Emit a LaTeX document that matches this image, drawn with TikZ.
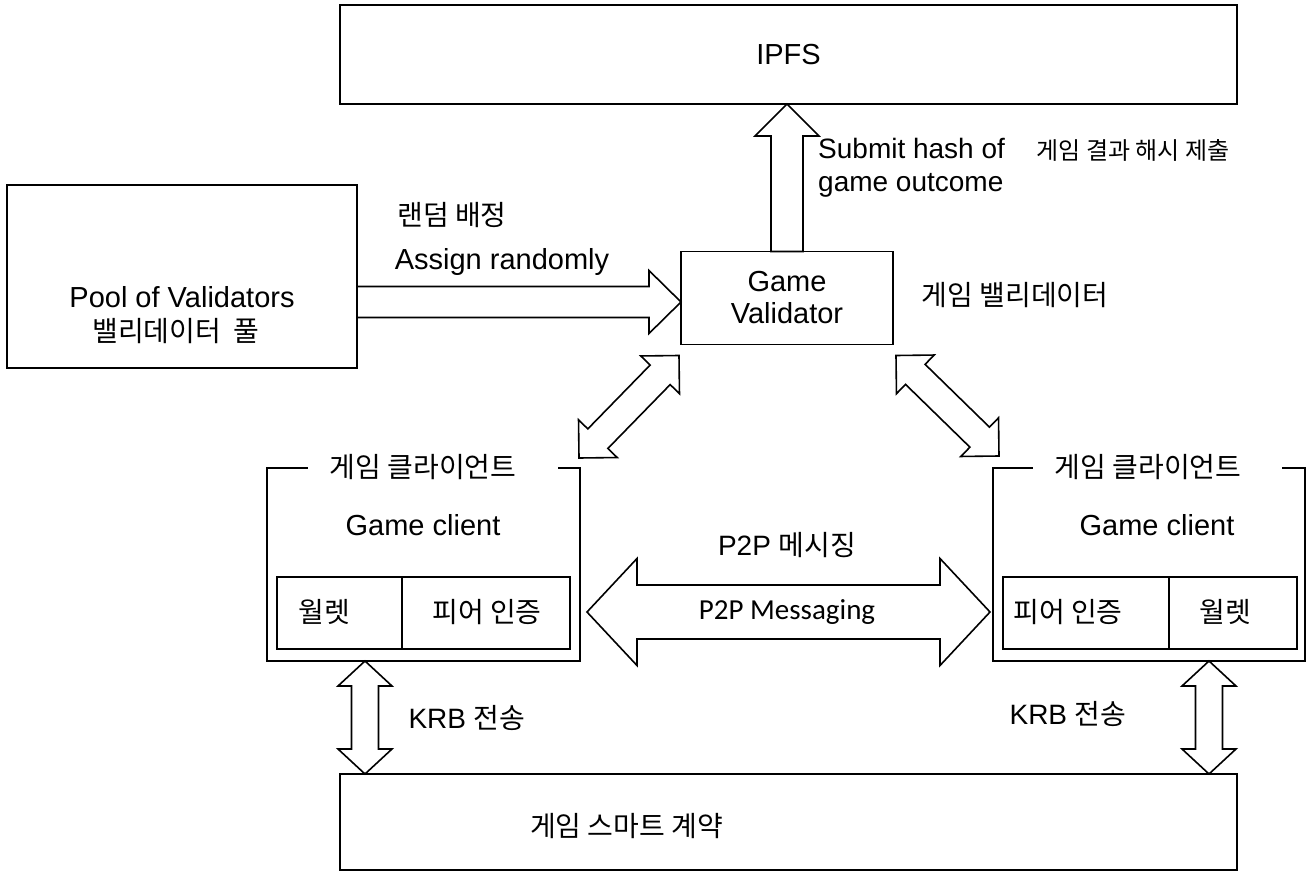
\documentclass[tikz,border=0pt]{standalone}
\usepackage{fontspec}
\setmainfont{Liberation Sans}
\newfontfamily\kr{Noto Sans CJK KR}
\newfontfamily\calib{Carlito}
\usetikzlibrary{calc}

\tikzset{
  box/.style={draw, line width=1.6pt, rectangle, inner sep=0pt, outer sep=0pt},
  cell/.style={draw, line width=1.3pt, rectangle, inner sep=0pt, outer sep=0pt},
  blk/.style={draw, line width=1.6pt, fill=white, line join=miter},
  lat/.style={font=\fontsize{29}{32}\selectfont, inner sep=0pt},
  kor/.style={font=\fontsize{28}{32}\selectfont\kr, inner sep=0pt},
  gap/.style={fill=white, inner sep=0pt, minimum height=14pt},
}

% double block arrow: [opts]{A}{B}{shaft half width}{head half width}{head length}
\newcommand\dblblock[6][]{%
  \draw[blk,#1] (#2)
    -- ($(#2)!#6!(#3)!#5!90:(#3)$)
    -- ($(#2)!#6!(#3)!#4!90:(#3)$)
    -- ($(#3)!#6!(#2)!#4!-90:(#2)$)
    -- ($(#3)!#6!(#2)!#5!-90:(#2)$)
    -- (#3)
    -- ($(#3)!#6!(#2)!#5!90:(#2)$)
    -- ($(#3)!#6!(#2)!#4!90:(#2)$)
    -- ($(#2)!#6!(#3)!#4!-90:(#3)$)
    -- ($(#2)!#6!(#3)!#5!-90:(#3)$)
    -- cycle;}
% single block arrow: tail A, tip B
\newcommand\sglblock[6][]{%
  \draw[blk,#1] ($(#2)!#4!90:(#3)$)
    -- ($(#3)!#6!(#2)!#4!-90:(#2)$)
    -- ($(#3)!#6!(#2)!#5!-90:(#2)$)
    -- (#3)
    -- ($(#3)!#6!(#2)!#5!90:(#2)$)
    -- ($(#3)!#6!(#2)!#4!90:(#2)$)
    -- ($(#2)!#4!-90:(#3)$)
    -- cycle;}

\begin{document}
\begin{tikzpicture}[x=1pt,y=-1pt]
\useasboundingbox[fill=white] (0,0) rectangle (1315,875);

% boxes
\node[box, minimum width=897pt, minimum height=99pt, lat] (ipfs) at (788.5,54.5) {IPFS};
\node[box, minimum width=350pt, minimum height=183pt] (pool) at (182,276.5) {};
\node[lat] (poolt) at (182,297) {Pool of Validators};
\node[kor] (poolk) at (176,331) {밸리데이터\ \ 풀};
\node[box, minimum width=212pt, minimum height=93pt, lat, align=center] (val) at (787,298) {Game\\Validator};

% left client
\node[box, minimum width=313pt, minimum height=193pt] (lc) at (423.5,564.5) {};
\node[gap, minimum width=250pt] (lgap) at (433,468) {};
\node[kor] (lct) at (423,467) {게임 클라이언트};
\node[lat] (lcg) at (423,525) {Game client};
\node[cell, minimum width=293pt, minimum height=72pt] (lin) at (423.5,613) {};
\draw[line width=1.3pt] ($(lin.north west)+(125,0)$) coordinate (ld1) -- ($(lin.south west)+(125,0)$) coordinate (ld2);
\node[kor] (lw) at (324,612) {월렛};
\node[kor] (lp) at (487,612) {피어 인증};

% right client
\node[box, minimum width=312pt, minimum height=193pt] (rc) at (1149,564.5) {};
\node[gap, minimum width=249pt] (rgap) at (1157.5,468) {};
\node[kor] (rct) at (1148,467) {게임 클라이언트};
\node[lat] (rcg) at (1157,525) {Game client};
\node[cell, minimum width=294pt, minimum height=72pt] (rin) at (1150,613) {};
\draw[line width=1.3pt] ($(rin.north west)+(166,0)$) coordinate (rd1) -- ($(rin.south west)+(166,0)$) coordinate (rd2);
\node[kor] (rp) at (1068,612) {피어 인증};
\node[kor] (rw) at (1225,612) {월렛};

% smart contract
\node[box, minimum width=897pt, minimum height=96pt] (sc) at (788.5,822) {};
\node[kor, anchor=west] (sct) at (530,826) {게임 스마트 계약};

% connector end points
\coordinate (upA) at (val.north);
\coordinate (upB) at (upA |- ipfs.south);
\coordinate (asA) at ($(pool.east)+(0,25.5)$);
\coordinate (asB) at (asA -| val.west);
\coordinate (ldA) at ($(val.south west)+(-2,11)$);
\coordinate (ldB) at ($(lc.north east)+(-1,-10)$);
\coordinate (rdA) at ($(val.south east)+(3,11)$);
\coordinate (rdB) at ($(rc.north west)+(6,-12)$);
\coordinate (ppA) at ($(lin.east)+(17,-1)$);
\coordinate (ppB) at ($(rin.west)+(-13,-1)$);
\coordinate (kaA) at ($(lc.south west)+(98,0)$);
\coordinate (kaB) at (kaA |- sc.north);
\coordinate (kbA) at ($(rc.south west)+(216,0)$);
\coordinate (kbB) at (kbA |- sc.north);

% block arrows
\sglblock{upA}{upB}{16pt}{32pt}{32pt}
\sglblock{asA}{asB}{15.5pt}{31.5pt}{32pt}
\dblblock{ldA}{ldB}{14pt}{27pt}{27pt}
\dblblock{rdA}{rdB}{14pt}{27pt}{27pt}
\dblblock{ppA}{ppB}{27pt}{53.5pt}{50pt}
\dblblock{kaA}{kaB}{13.5pt}{27pt}{25pt}
\dblblock{kbA}{kbB}{13.5pt}{27pt}{25pt}

% labels
\node[kor] (l1) at (452,215) {랜덤 배정};
\node[lat] (l2) at (502,262) {Assign randomly};
\node[lat, anchor=west, align=left, font=\fontsize{28}{33}\selectfont] (l3) at (818,168) {Submit hash of\\game outcome};
\node[kor, font=\fontsize{24}{28}\selectfont\kr] (l4) at (1133,150) {게임 결과 해시 제출};
\node[kor] (l5) at (1015,295) {게임 밸리데이터};
\node[inner sep=0pt] (l6) at (787,545) {\fontsize{28}{32}\selectfont P2P {\kr\fontsize{28}{32}\selectfont 메시징}};
\node[inner sep=0pt, font=\fontsize{29}{32}\selectfont\calib] (l7) at (787,612) {P2P Messaging};
\node[inner sep=0pt] (l8) at (467,718) {\fontsize{28}{32}\selectfont KRB {\kr\fontsize{28}{32}\selectfont 전송}};
\node[inner sep=0pt] (l9) at (1068,714) {\fontsize{28}{32}\selectfont KRB {\kr\fontsize{28}{32}\selectfont 전송}};
\end{tikzpicture}
\end{document}
